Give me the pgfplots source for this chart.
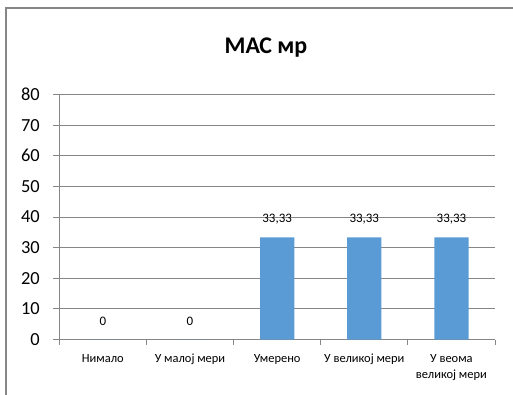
\documentclass[border=0pt]{standalone}
\usepackage{fontspec}
\setmainfont{Carlito}
\usepackage{pgfplots}
\pgfplotsset{compat=1.18}
\definecolor{barblue}{RGB}{91,155,213}
\definecolor{linegray}{RGB}{134,134,134}
\begin{document}
\begin{tikzpicture}[x=1bp,y=1bp]
\useasboundingbox (0,0) rectangle (513,394);
\begin{scope}
\clip (0,0) rectangle (513,394);
\draw[draw=linegray, line width=1.3bp] (6,-10) rectangle (530,386);
\end{scope}
\node[font=\bfseries\fontsize{24}{28}\selectfont, anchor=base, inner sep=0pt] at (266,340.7) {МАС мр};
\begin{axis}[
  at={(59.3bp,54.5bp)}, anchor=south west,
  scale only axis, width=435.7bp, height=245bp,
  xmin=-0.5, xmax=4.5, ymin=0, ymax=80,
  axis x line=bottom, axis y line=left,
  axis line style={-, draw=linegray, line width=1bp},
  /pgf/number format/assume math mode=true,
  ytick={0,10,...,80},
  ymajorgrids, grid style={draw=linegray, line width=1bp},
  tick align=outside,
  major tick length=6bp, minor tick length=5bp,
  tick style={draw=linegray, line width=1bp},
  yticklabel style={font=\fontsize{18.5}{20}\selectfont, xshift=-10bp},
  xtick={0,1,2,3,4},
  xticklabels={Нимало, У малој мери, Умерено, У великој мери, {У веома\\великој мери}},
  major x tick style={draw=none},
  minor xtick={-0.5,0.5,1.5,2.5,3.5,4.5},
  minor ytick={},
  xticklabel style={font=\fontsize{12.5}{16.5}\selectfont, align=center, anchor=north, yshift=-5bp},
  ybar, bar width=34.3bp,
  nodes near coords={\pgfmathprintnumber[fixed,precision=2,use comma]{\pgfplotspointmeta}},
  every node near coord/.append style={font=\fontsize{13}{15}\selectfont, anchor=center, yshift=18bp},
]
\addplot[fill=barblue, draw=none] coordinates {(0,0) (1,0) (2,33.33) (3,33.33) (4,33.33)};
\end{axis}
\end{tikzpicture}
\end{document}
